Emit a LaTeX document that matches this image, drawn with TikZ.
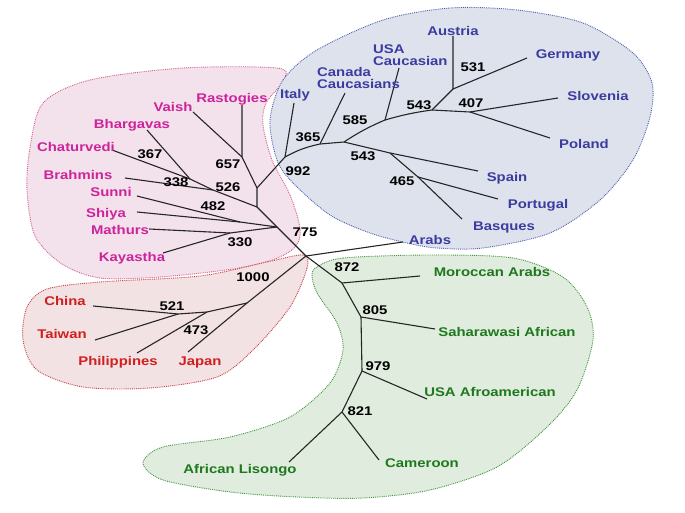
\documentclass[tikz,border=0pt]{standalone}
\usepackage{fontspec}
\setmainfont{Liberation Sans}[FakeStretch=1.18]
\definecolor{pinkT}{RGB}{205,35,155}
\definecolor{blueT}{RGB}{60,60,160}
\definecolor{redT}{RGB}{210,30,30}
\definecolor{greenT}{RGB}{30,120,30}
\definecolor{pinkF}{RGB}{243,225,235}
\definecolor{pinkD}{RGB}{215,95,140}
\definecolor{blueF}{RGB}{221,226,236}
\definecolor{blueD}{RGB}{80,95,175}
\definecolor{redF}{RGB}{242,226,228}
\definecolor{redD}{RGB}{200,64,64}
\definecolor{greenF}{RGB}{224,236,221}
\definecolor{greenD}{RGB}{60,150,60}
\begin{document}
\begin{tikzpicture}[x=1pt,y=-1pt,
  txt/.style={font=\fontsize{12.6}{11}\selectfont\bfseries, inner sep=0pt, anchor=base},
  pl/.style={txt, text=pinkT},
  bl/.style={txt, text=blueT},
  rl/.style={txt, text=redT},
  gl/.style={txt, text=greenT},
  num/.style={txt, text=black},
  br/.style={line width=1.1pt, black!85, line join=round},
  blob/.style={densely dotted, line width=0.9pt}]
\useasboundingbox (0,0) rectangle (685,513);
% ---------- blobs
\draw[blob, draw=pinkD, fill=pinkF] plot[smooth cycle] coordinates {(43,103) (90,80) (183,68) (277,68) (284,80) (266,103) (263,125) (272,160) (290,195) (300,228) (296,246) (275,259) (233,269) (160,277) (100,278) (62,264) (35,236) (27,190) (30,148)};
\draw[blob, draw=blueD, fill=blueF] plot[smooth cycle] coordinates {(270,120) (283,80) (317,50) (383,20) (450,8) (517,10) (583,23) (633,53) (652,83) (650,117) (633,160) (600,200) (550,233) (483,248) (437,248) (407,243) (370,233) (330,215) (293,183) (277,160)};
\draw[blob, draw=redD, fill=redF] plot[smooth cycle] coordinates {(303,255) (307,268) (290,307) (253,350) (217,377) (150,388) (83,387) (37,370) (23,340) (27,307) (47,289) (100,282) (200,276) (267,262)};
\draw[blob, draw=greenD, fill=greenF] plot[smooth cycle] coordinates {(317,267) (343,258) (430,255) (513,258) (563,277) (587,307) (593,340) (577,390) (547,427) (497,467) (430,490) (363,498) (297,497) (230,492) (163,480) (143,463) (163,447) (230,437) (290,417) (330,383) (343,350) (337,323) (317,293) (312,275)};
% ---------- tree coordinates
\coordinate (root) at (306,256);
\coordinate (arE) at (403,242);
% Indian cluster
\coordinate (n775) at (277,227);
\coordinate (n526) at (257,207);
\coordinate (nIn) at (257,188);
\coordinate (n657) at (242,157);
\coordinate (rasE) at (242,105);
\coordinate (vaiE) at (193,112);
\coordinate (n367) at (190,179);
\coordinate (bhaE) at (147,130);
\coordinate (chaE) at (112,150);
\coordinate (n338) at (213,190);
\coordinate (braE) at (125,178);
\coordinate (n482) at (240,222);
\coordinate (sunE) at (137,196);
\coordinate (shiE) at (137,212);
\coordinate (n330) at (230,233);
\coordinate (matE) at (149,229);
\coordinate (kayE) at (163,253);
% European cluster
\coordinate (n992) at (285,157);
\coordinate (itE) at (294,103);
\coordinate (n365) at (320,144);
\coordinate (canE) at (345,93);
\coordinate (nB) at (344,142);
\coordinate (n585) at (385,120);
\coordinate (usE) at (399,68);
\coordinate (n543) at (432,110);
\coordinate (n531) at (453,89);
\coordinate (auE) at (453,36);
\coordinate (geE) at (527,58);
\coordinate (n407) at (470,112);
\coordinate (slE) at (558,98);
\coordinate (poE) at (550,138);
\coordinate (nSp) at (390,153);
\coordinate (spE) at (478,171);
\coordinate (n465) at (418,177);
\coordinate (ptE) at (498,199);
\coordinate (bqE) at (462,219);
% East Asian cluster
\coordinate (n1000) at (247,303);
\coordinate (jaE) at (188,352);
\coordinate (nPh) at (207,312);
\coordinate (phE) at (137,353);
\coordinate (n521) at (178,314);
\coordinate (chE) at (93,306);
\coordinate (twE) at (95,340);
% African cluster
\coordinate (n872) at (342,283);
\coordinate (moE) at (420,276);
\coordinate (n805) at (361,317);
\coordinate (saE) at (435,329);
\coordinate (n979) at (362,371);
\coordinate (uaE) at (427,399);
\coordinate (n821) at (342,412);
\coordinate (liE) at (289,462);
\coordinate (caE) at (379,460);
% ---------- branches
\draw[br] (root) -- (arE);
\draw[br] (root) -- (n775) -- (n526) -- (nIn) -- (n657) -- (rasE);
\draw[br] (n657) -- (vaiE);
\draw[br] (n526) -- (n338) -- (n367) -- (bhaE);
\draw[br] (n367) -- (chaE);
\draw[br] (n338) -- (braE);
\draw[br] (n775) -- (n482) -- (shiE);
\draw[br] (n482) -- (sunE);
\draw[br] (n775) -- (n330) -- (matE);
\draw[br] (n330) -- (kayE);
\draw[br] (nIn) -- (n992) -- (itE);
\draw[br] (n992) to[bend left=8] (n365) -- (canE);
\draw[br] (n365) -- (nB) to[bend left=5] (n585) -- (usE);
\draw[br] (n585) to[bend left=4] (n543) -- (n531) -- (auE);
\draw[br] (n531) -- (geE);
\draw[br] (n543) -- (n407) -- (slE);
\draw[br] (n407) -- (poE);
\draw[br] (nB) -- (nSp) -- (spE);
\draw[br] (nSp) -- (n465) -- (bqE);
\draw[br] (n465) -- (ptE);
\draw[br] (root) -- (n1000) -- (jaE);
\draw[br] (n1000) -- (nPh) -- (phE);
\draw[br] (nPh) -- (n521) -- (chE);
\draw[br] (n521) -- (twE);
\draw[br] (root) -- (n872) -- (moE);
\draw[br] (n872) -- (n805) -- (saE);
\draw[br] (n805) -- (n979) -- (uaE);
\draw[br] (n979) -- (n821) -- (liE);
\draw[br] (n821) -- (caE);
% ---------- leaf labels
\node[pl] (lRas) at (232,102.5) {Rastogies};
\node[pl] (lVai) at (173,111.5) {Vaish};
\node[pl] (lBha) at (132,128.5) {Bhargavas};
\node[pl] (lCha) at (76,151.5) {Chaturvedi};
\node[pl] (lBra) at (78,179.5) {Brahmins};
\node[pl] (lSun) at (111,196.5) {Sunni};
\node[pl] (lShi) at (106,217.5) {Shiya};
\node[pl] (lMat) at (120,234.5) {Mathurs};
\node[pl] (lKay) at (132,261.5) {Kayastha};
\node[bl] (lIta) at (295,98.5) {Italy};
\node[bl, anchor=base west] (lCan1) at (317,76.5) {Canada};
\node[bl, anchor=base west] (lCan2) at (317,88.5) {Caucasians};
\node[bl, anchor=base west] (lUsa1) at (373,53.5) {USA};
\node[bl, anchor=base west] (lUsa2) at (373,65.5) {Caucasian};
\node[bl] (lAus) at (453,35.5) {Austria};
\node[bl] (lGer) at (568,58.5) {Germany};
\node[bl] (lSlo) at (598,100.5) {Slovenia};
\node[bl] (lPol) at (584,148.5) {Poland};
\node[bl] (lSpa) at (507,181.5) {Spain};
\node[bl] (lPor) at (538,208.5) {Portugal};
\node[bl] (lBas) at (504,230.5) {Basques};
\node[bl] (lAra) at (430,244.5) {Arabs};
\node[rl] (lChi) at (65,305.5) {China};
\node[rl] (lTai) at (62,338.5) {Taiwan};
\node[rl] (lPhi) at (118,365.5) {Philippines};
\node[rl] (lJap) at (200,365.5) {Japan};
\node[gl] (lMor) at (492,276.5) {Moroccan Arabs};
\node[gl] (lSah) at (507,336.5) {Saharawasi African};
\node[gl] (lUaf) at (490,396.5) {USA Afroamerican};
\node[gl] (lCam) at (422,467.5) {Cameroon};
\node[gl] (lLis) at (240,473.5) {African Lisongo};
% ---------- bootstrap values
\node[num] (b367) at (150,158.5) {367};
\node[num] (b338) at (176,186.5) {338};
\node[num] (b526) at (228,191.5) {526};
\node[num] (b657) at (228,168.5) {657};
\node[num] (b482) at (213,210.5) {482};
\node[num] (b330) at (240,246.5) {330};
\node[num] (b775) at (305,236.5) {775};
\node[num] (b992) at (298,175.5) {992};
\node[num] (b365) at (308,141.5) {365};
\node[num] (b585) at (355,124.5) {585};
\node[num] (b543a) at (419,109.5) {543};
\node[num] (b531) at (473,71.5) {531};
\node[num] (b407) at (471,107.5) {407};
\node[num] (b543b) at (363,160.5) {543};
\node[num] (b465) at (402,185.5) {465};
\node[num] (b1000) at (253,281.5) {1000};
\node[num] (b521) at (172,310.5) {521};
\node[num] (b473) at (196,334.5) {473};
\node[num] (b872) at (347,271.5) {872};
\node[num] (b805) at (375,314.5) {805};
\node[num] (b979) at (378,370.5) {979};
\node[num] (b821) at (360,415.5) {821};
\end{tikzpicture}
\end{document}
